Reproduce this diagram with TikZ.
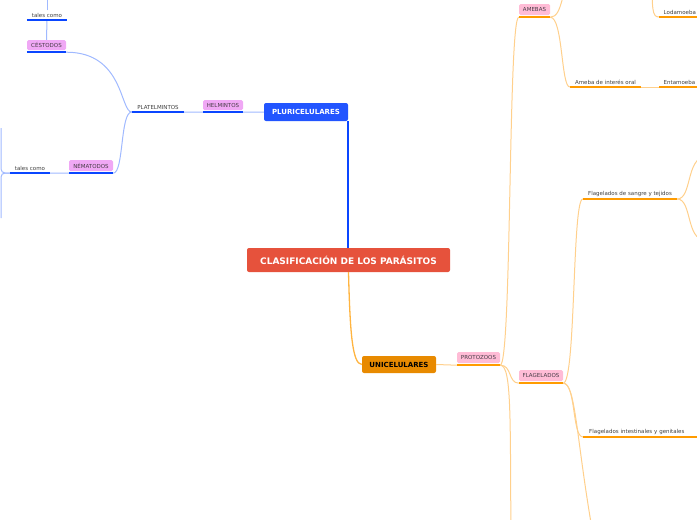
\documentclass[tikz,border=0pt]{standalone}
\usepackage{fontspec}
\setmainfont{DejaVu Sans}
\usetikzlibrary{positioning}
\definecolor{rootred}{RGB}{230,82,60}
\definecolor{pluriblue}{RGB}{34,85,255}
\definecolor{uniorange}{RGB}{232,138,0}
\definecolor{lineblue}{RGB}{10,70,255}
\definecolor{thinblue}{RGB}{160,185,255}
\definecolor{lineorange}{RGB}{255,155,0}
\definecolor{thinorange}{RGB}{255,208,140}
\definecolor{tagpink}{RGB}{255,188,214}
\definecolor{tagviolet}{RGB}{240,168,245}
\definecolor{tagtext}{RGB}{70,60,70}

\begin{document}
\begin{tikzpicture}[x=1pt, y=-1pt,
  topic/.style={rounded corners=2pt, font=\bfseries\fontsize{7}{8}\selectfont, inner sep=0pt, minimum height=18pt},
  tag/.style={rounded corners=1.5pt, font=\fontsize{5.5}{6}\selectfont, text=tagtext, inner sep=0pt, minimum height=11pt},
  leaf/.style={anchor=south, font=\fontsize{5.5}{6}\selectfont, text=black!75, inner xsep=0pt, inner ysep=2.5pt},
  ulb/.style={line width=2.5pt, draw=lineblue},
  ulo/.style={line width=2.5pt, draw=lineorange},
  thinb/.style={line width=1pt, draw=thinblue},
  thino/.style={line width=1pt, draw=thinorange}]
\useasboundingbox (0,0) rectangle (697,520);
% main topics
\node[topic, fill=rootred, text=white, minimum width=203pt, minimum height=24pt, font=\bfseries\fontsize{9}{10}\selectfont] (root) at (348.5,260) {CLASIFICACIÓN DE LOS PARÁSITOS};
\node[topic, fill=pluriblue, text=white, minimum width=84pt] (pluri) at (306,112) {PLURICELULARES};
\node[topic, fill=uniorange, text=black, minimum width=74pt, minimum height=17pt] (uni) at (399,364.5) {UNICELULARES};
% tags
\node[tag, fill=tagviolet, minimum width=40pt, minimum height=10pt] (helm) at (223,105) {HELMINTOS};
\node[tag, fill=tagviolet, minimum width=39pt, minimum height=10pt] (ces) at (46.5,45) {CÉSTODOS};
\node[tag, fill=tagviolet, minimum width=44pt] (nem) at (91,165.5) {NÉMATODOS};
\node[tag, fill=tagpink, minimum width=43pt] (prot) at (478.5,357.5) {PROTOZOOS};
\node[tag, fill=tagpink, minimum width=31pt] (ameb) at (534.5,9.5) {AMEBAS};
\node[tag, fill=tagpink, minimum width=44pt] (flag) at (541,375.5) {FLAGELADOS};
% leaves
\node[leaf, minimum width=52pt] (plat) at (158,112) {PLATELMINTOS};
\node[leaf, minimum width=40pt] (tales1) at (47,20) {tales como};
\node[leaf, minimum width=40pt] (tales2) at (30,173) {tales como};
\node[leaf, minimum width=71pt] (oral) at (605.5,87) {Ameba de interés oral};
\node[leaf, anchor=south west, text width=50pt, align=left, inner xsep=4.5pt] (enta) at (659,87) {Entamoeba};
\node[leaf, anchor=south west, text width=50pt, align=left, inner xsep=4.5pt] (loda) at (659,17) {Lodamoeba};
\node[leaf, minimum width=94pt] (sang) at (630,199) {Flagelados de sangre y tejidos};
\node[leaf, anchor=south west, text width=110pt, align=left, inner xsep=6pt] (intes) at (583,437) {Flagelados intestinales y genitales};
% branches leaving the picture
\coordinate (up1) at (47,-5);
\coordinate (amup) at (575,-40);
\coordinate (lodup) at (652,-30);
\coordinate (protdn) at (511,540);
\coordinate (flagdn) at (594,540);
\coordinate (sangup) at (705,157);
\coordinate (sangdn) at (705,240);
\coordinate (nemup) at (1,128);
\coordinate (nemdn) at (1,218);

% connectors
\draw[line width=1.8pt, draw=lineblue] (root.north -| pluri.south east) -- (pluri.south east);
\draw[line width=1.3pt, draw=lineorange!75] (root.south) .. controls (350,330) and (352,364) .. (uni.west);
\draw[thinb] (pluri.west) -- ([yshift=-2pt]helm.south east);
\draw[thinb] ([yshift=-2pt]helm.south west) -- (plat.south east);
\draw[thinb] (plat.south west) .. controls (120,112) and (124,52) .. ([yshift=-2pt]ces.south east);
\draw[thinb] (plat.south west) .. controls (120,112) and (124,173) .. ([yshift=-2pt]nem.south east);
\draw[thinb] (ces.north) -- (tales1.south);
\draw[thinb] (tales1.north) -- (up1);
\draw[thinb] ([yshift=-2pt]nem.south west) -- (tales2.south east);
\draw[thinb, rounded corners=4pt] (tales2.south west) -| (nemup);
\draw[thinb, rounded corners=4pt] (tales2.south west) -| (nemdn);
\draw[thino] (uni.east) -- ([yshift=-2pt]prot.south west);
\draw[thino] ([yshift=-2pt]prot.south east) .. controls (512,365) and (508,17) .. ([yshift=-2pt]ameb.south west);
\draw[thino] ([yshift=-2pt]prot.south east) .. controls (512,365) and (508,383) .. ([yshift=-2pt]flag.south west);
\draw[thino] ([yshift=-2pt]prot.south east) .. controls (512,365) and (510,420) .. (protdn);
\draw[thino] ([yshift=-2pt]ameb.south east) .. controls (563,17) and (561,87) .. (oral.south west);
\draw[thino] ([yshift=-2pt]ameb.south east) .. controls (563,17) and (561,-10) .. (amup);
\draw[thino] (oral.south east) -- (enta.south west);
\draw[thino] (lodup) .. controls (652,10) and (652,17) .. (loda.south west);
\draw[thino] ([yshift=-2pt]flag.south east) .. controls (576,383) and (572,199) .. (sang.south west);
\draw[thino] ([yshift=-2pt]flag.south east) .. controls (576,383) and (572,437) .. (intes.south west);
\draw[thino] ([yshift=-2pt]flag.south east) .. controls (576,383) and (576,440) .. (flagdn);
\draw[thino] (sang.south east) .. controls (692,199) and (686,158) .. (sangup);
\draw[thino] (sang.south east) .. controls (692,199) and (686,240) .. (sangdn);

% underlines
\draw[ulb] ([yshift=-2pt]helm.south west) -- ([yshift=-2pt]helm.south east);
\draw[ulb] ([yshift=-2pt]ces.south west) -- ([yshift=-2pt]ces.south east);
\draw[ulb] ([yshift=-2pt]nem.south west) -- ([yshift=-2pt]nem.south east);
\draw[ulb] (plat.south west) -- (plat.south east);
\draw[ulb] (tales1.south west) -- (tales1.south east);
\draw[ulb] (tales2.south west) -- (tales2.south east);
\draw[ulo] ([yshift=-2pt]prot.south west) -- ([yshift=-2pt]prot.south east);
\draw[ulo] ([yshift=-2pt]ameb.south west) -- ([yshift=-2pt]ameb.south east);
\draw[ulo] ([yshift=-2pt]flag.south west) -- ([yshift=-2pt]flag.south east);
\draw[ulo] (oral.south west) -- (oral.south east);
\draw[ulo] (enta.south west) -- (enta.south east);
\draw[ulo] (loda.south west) -- (loda.south east);
\draw[ulo] (sang.south west) -- (sang.south east);
\draw[ulo] (intes.south west) -- (intes.south east);
\end{tikzpicture}
\end{document}
